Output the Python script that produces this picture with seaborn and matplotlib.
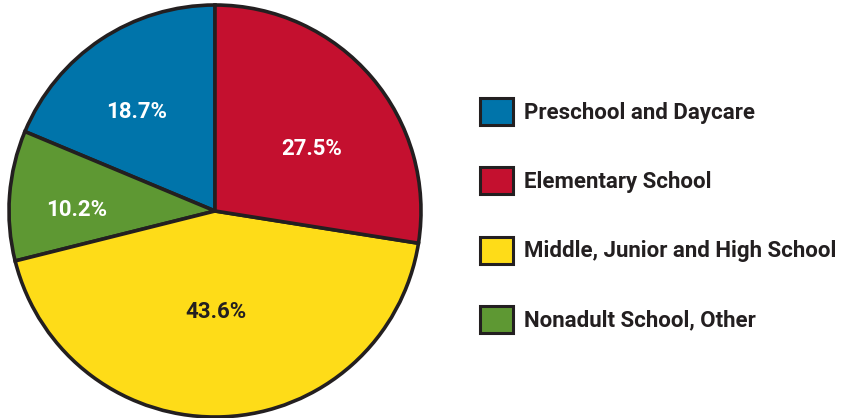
import matplotlib
matplotlib.use("Agg")
import matplotlib.pyplot as plt
from matplotlib.patches import Patch
import numpy as np
import seaborn as sns

categories = ["Preschool and Daycare", "Elementary School",
              "Middle, Junior and High School", "Nonadult School, Other"]
shares = [18.7, 27.5, 43.6, 10.2]
colors = ["#0074AA", "#C4102F", "#FEDC18", "#5E9833"]
# counter-clockwise drawing order starting at 12 o'clock
wedge_order = [0, 3, 2, 1]

sns.set_theme(style="white")
plt.rcParams["font.family"] = ["Roboto", "DejaVu Sans"]
plt.rcParams["font.weight"] = "bold"

W, H = 842, 418
fig = plt.figure(figsize=(W / 100, H / 100), dpi=100)
cx, cy, R = 215, 211, 206
ax = fig.add_axes([(cx - R) / W, (H - cy - R) / H, 2 * R / W, 2 * R / H])

edge = "#231F20"
vals = [shares[i] for i in wedge_order]
cols = [colors[i] for i in wedge_order]
wedges, _ = ax.pie(vals, colors=cols, startangle=90, counterclock=True,
                   wedgeprops=dict(edgecolor=edge, linewidth=2.6))
ax.set_xlim(-1.0, 1.0)
ax.set_ylim(-1.0, 1.0)
ax.set_aspect("equal")
ax.axis("off")

# label placement per category: radial fraction and angular nudge (deg)
label_r = {0: 0.62, 1: 0.56, 2: 0.48, 3: 0.67}
label_nudge = {0: 4, 1: -7, 2: -2, 3: 3}
label_color = {0: "white", 1: "white", 2: "#231F20", 3: "white"}
for w, i in zip(wedges, wedge_order):
    ang = np.deg2rad((w.theta1 + w.theta2) / 2 + label_nudge[i])
    r = label_r[i]
    ax.text(r * np.cos(ang), r * np.sin(ang) - 0.01, f"{shares[i]:.1f}%",
            ha="center", va="center", fontsize=16, fontweight="bold",
            color=label_color[i])

handles = [Patch(facecolor=c, edgecolor=edge, linewidth=2.2) for c in colors]
fig.legend(handles, categories, loc="upper left",
           bbox_to_anchor=(471 / W, 1 - 89 / H), frameon=False,
           handlelength=1.5, handleheight=1.5,
           handletextpad=0.5, labelspacing=1.9, borderaxespad=0,
           labelcolor="#231F20", prop=dict(weight="bold", size=16))

fig.savefig("out.png", dpi=100, facecolor="white")
